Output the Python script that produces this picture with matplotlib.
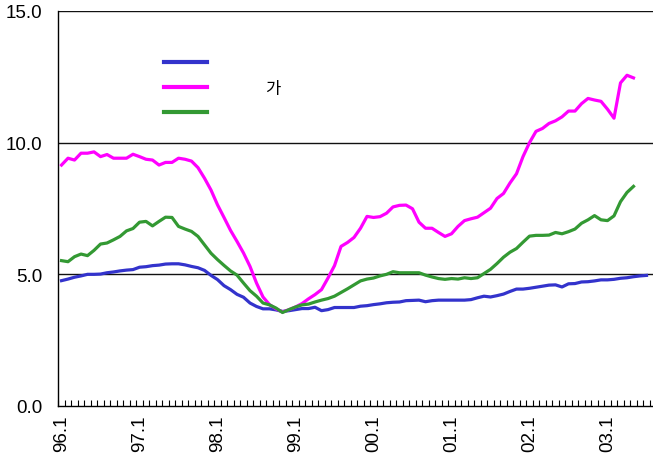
import matplotlib
matplotlib.use('Agg')
import matplotlib.pyplot as plt
import numpy as np
from matplotlib.lines import Line2D

plt.rcParams['font.family'] = ['Liberation Sans', 'Noto Sans CJK KR']

# Monthly series starting 1996.1
blue = [4.76, 4.82, 4.89, 4.94, 5.00, 5.00, 5.01, 5.06, 5.09, 5.13, 5.16, 5.18,
        5.27, 5.29, 5.33, 5.35, 5.39, 5.40, 5.40, 5.36, 5.30, 5.25, 5.15, 4.96,
        4.80, 4.57, 4.42, 4.24, 4.13, 3.91, 3.78, 3.69, 3.69, 3.65, 3.59, 3.62,
        3.66, 3.70, 3.70, 3.75, 3.62, 3.66, 3.74, 3.74, 3.74, 3.74, 3.79, 3.81,
        3.85, 3.88, 3.92, 3.94, 3.95, 4.00, 4.01, 4.02, 3.96, 4.00, 4.02, 4.02,
        4.02, 4.02, 4.02, 4.04, 4.11, 4.17, 4.14, 4.19, 4.25, 4.35, 4.44, 4.44,
        4.47, 4.51, 4.55, 4.59, 4.60, 4.52, 4.64, 4.65, 4.71, 4.72, 4.75, 4.79,
        4.79, 4.81, 4.85, 4.87, 4.91, 4.94, 4.96]

magenta = [9.15, 9.41, 9.34, 9.60, 9.60, 9.65, 9.47, 9.55, 9.41, 9.41, 9.41, 9.56,
           9.47, 9.37, 9.34, 9.15, 9.25, 9.25, 9.41, 9.37, 9.30, 9.05, 8.65, 8.20,
           7.64, 7.16, 6.67, 6.25, 5.81, 5.30, 4.67, 4.14, 3.85, 3.69, 3.57, 3.66,
           3.76, 3.89, 4.07, 4.23, 4.42, 4.86, 5.33, 6.06, 6.21, 6.40, 6.75, 7.20,
           7.16, 7.19, 7.32, 7.56, 7.62, 7.63, 7.49, 6.98, 6.75, 6.75, 6.59, 6.44,
           6.54, 6.82, 7.04, 7.11, 7.17, 7.34, 7.51, 7.88, 8.07, 8.47, 8.82, 9.47,
           10.00, 10.43, 10.54, 10.73, 10.83, 10.98, 11.20, 11.20, 11.48, 11.68, 11.62, 11.57,
           11.27, 10.93, 12.27, 12.56, 12.46]

green = [5.52, 5.48, 5.67, 5.77, 5.71, 5.91, 6.15, 6.19, 6.31, 6.44, 6.65, 6.74,
         6.98, 7.01, 6.84, 7.01, 7.17, 7.16, 6.82, 6.72, 6.63, 6.44, 6.12, 5.80,
         5.56, 5.34, 5.13, 4.97, 4.67, 4.38, 4.17, 3.91, 3.84, 3.72, 3.55, 3.66,
         3.76, 3.84, 3.87, 3.95, 4.02, 4.08, 4.17, 4.31, 4.45, 4.60, 4.75, 4.82,
         4.86, 4.94, 5.00, 5.10, 5.06, 5.06, 5.06, 5.06, 4.97, 4.90, 4.84, 4.81,
         4.84, 4.82, 4.87, 4.84, 4.87, 5.03, 5.19, 5.41, 5.65, 5.84, 5.98, 6.22,
         6.45, 6.48, 6.48, 6.49, 6.59, 6.54, 6.62, 6.72, 6.94, 7.07, 7.23, 7.07,
         7.04, 7.22, 7.76, 8.11, 8.34]

year_labels = ['96.1', '97.1', '98.1', '99.1', '00.1', '01.1', '02.1', '03.1']
legend_labels = [' ', '가', ' ']
y_ticks = [0, 5, 10, 15]
y_tick_labels = ['0.0', '5.0', '10.0', '15.0']

colors = ['#3333CC', '#FF00FF', '#339933']

fig = plt.figure(figsize=(6.53, 4.6), dpi=100)
ax = fig.add_axes([58 / 653, 53 / 460, 595 / 653, 395 / 460])

for series, c in zip([blue, magenta, green], colors):
    ax.plot(np.arange(len(series)), series, color=c, lw=2.3,
            solid_joinstyle='round', zorder=3)

ax.set_xlim(-0.54, 91.0)
ax.set_ylim(0, 15)

for yv in y_ticks[1:]:
    ax.axhline(yv, color='#111111', lw=1.0, zorder=1)

ax.set_yticks(y_ticks)
ax.set_yticklabels(y_tick_labels, fontsize=13.5)
ax.tick_params(axis='y', length=0, pad=11)

ax.set_xticks(np.arange(0, 12 * len(year_labels), 12))
ax.set_xticklabels(year_labels, rotation=90, fontsize=13.5, va='top', ha='center')
ax.set_xticks(np.arange(-0.5, 91.0, 1), minor=True)
ax.tick_params(axis='x', which='major', length=0, pad=6)
ax.tick_params(axis='x', which='minor', direction='in', length=4, width=0.8)

for s in ['top', 'right']:
    ax.spines[s].set_visible(False)
ax.spines['left'].set_linewidth(1.0)
ax.spines['bottom'].set_linewidth(1.0)

handles = [Line2D([], [], color=c, lw=3.0) for c in colors]
ax.legend(handles, legend_labels, loc='upper left', bbox_to_anchor=(0.178, 0.887),
          frameon=False, fontsize=12, handlelength=2.6, handletextpad=3.5,
          labelspacing=0.6, borderpad=0, borderaxespad=0)

fig.savefig('out.png', dpi=100)
